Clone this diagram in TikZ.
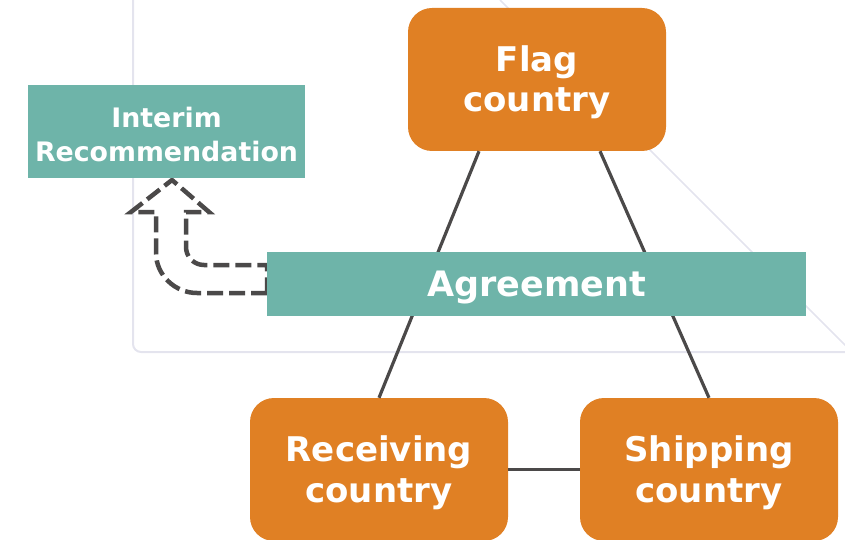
\documentclass[tikz,border=0pt]{standalone}
\usepackage{fontspec}
\setmainfont{DejaVu Sans}
\usetikzlibrary{calc}
\definecolor{countryfill}{HTML}{E08024}
\definecolor{bandfill}{HTML}{6EB4A9}
\definecolor{linkgray}{HTML}{4B4949}
\definecolor{framegray}{HTML}{E4E4EE}
\begin{document}
\begin{tikzpicture}[x=1pt,y=-1pt,
  country/.style={fill=countryfill, rounded corners=24pt, minimum width=258pt,
    minimum height=143pt, inner sep=0pt, text=white, align=center,
    font=\bfseries\fontsize{34}{40.5}\selectfont},
  band/.style={fill=bandfill, minimum width=539pt, minimum height=64pt,
    inner sep=0pt, text=white, text height=25pt, text depth=0pt,
    font=\bfseries\fontsize{35}{41}\selectfont},
  notebox/.style={fill=bandfill, minimum width=277pt, minimum height=93pt,
    inner sep=0pt, text=white, align=center,
    font=\bfseries\fontsize{26.8}{34.5}\selectfont},
  link/.style={draw=linkgray, line width=3.2pt},
  turnarrow/.style={draw=linkgray, line width=4.5pt, dash pattern=on 16pt off 6pt},
  frame/.style={draw=framegray, line width=2pt}]
\useasboundingbox (0,0) rectangle (845,540);
\clip (0,0) rectangle (845,540);

% light background frame and diagonal
\draw[frame, rounded corners=8pt] (133,-20) -- (133,352) -- (870,352);
\draw[frame, line width=1.5pt] (500,0) -- (850,350);

% country boxes (fill), with their labels set slightly lower
\node[country] (flag) at (537,79.5) {};
\node[country] (recv) at (379,469.5) {};
\node[country] (ship) at (709,469.5) {};
\node[country, fill=none] (flagtext) at (537,82.5) {Flag\\country};
\node[country, fill=none] (recvtext) at (379,472.5) {Receiving\\country};
\node[country, fill=none] (shiptext) at (709,472.5) {Shipping\\country};

% links between countries
\draw[link] ($(flag.south)+(-58,0)$) -- (recv.north);
\draw[link] ($(flag.south)+(63,0)$) -- (ship.north);
\draw[link] (recv) -- (ship);

% agreement band position and its left edge
\coordinate (agreecenter) at (536.5,284);
\coordinate (agreewest) at (267,284);

% hollow dashed turn arrow from the agreement to the recommendation
\draw[turnarrow]
  ($(agreewest)+(0,9)$) -- (197,293)
  .. controls (175,293) and (156,275) .. (156,253)
  -- (156,212) -- (131,212) -- (172,180) -- (209,212) -- (186,212) -- (186,247)
  .. controls (186,257) and (194,265) .. (204,265)
  -- ($(agreewest)+(0,-19)$) -- cycle;

\node[band] (agree) at (agreecenter) {Agreement};

% interim recommendation box
\node[notebox] (interim) at (166.5,131.5) {};
\node[notebox, fill=none] (interimtext) at (166.5,134.5) {Interim\\Recommendation};
\end{tikzpicture}
\end{document}
